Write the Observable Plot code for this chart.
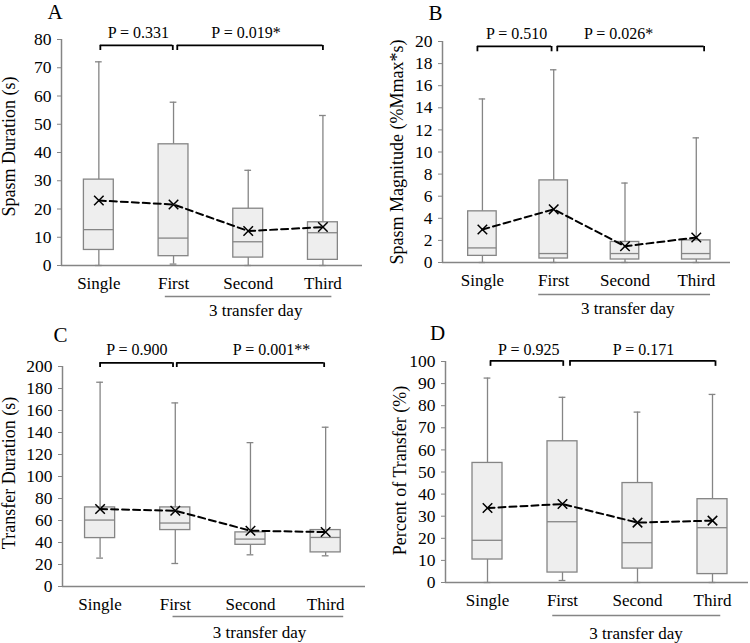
<!DOCTYPE html>
<html><head><meta charset="utf-8">
<script src="https://cdn.jsdelivr.net/npm/d3@7"></script>
<script src="https://cdn.jsdelivr.net/npm/@observablehq/plot@0.6"></script>
<style>
body{margin:0;background:#fff;}
#wrap{position:relative;width:750px;height:643px;overflow:hidden;background:#fff;}
.panel{position:absolute;}
#wrap svg, #wrap svg text, #wrap svg g { font-family: "Liberation Serif", "Times New Roman", serif !important; }
</style></head><body><div id="wrap"></div>
<script>
const categories = ["Single", "First", "Second", "Third"];
const groupLabel = "3 transfer day";

// A: Spasm Duration (s)
const durMax  = [72.1, 57.8, 33.7, 53.1];
const durQ3   = [30.4, 42.9, 20.1, 15.3];
const durMed  = [12.7, 9.7, 8.4, 11.6];
const durQ1   = [5.5, 3.3, 2.8, 2.0];
const durMin  = [0, 0.5, 0, 0];
const durMean = [23.0, 21.6, 12.2, 13.6];
const durTicks = [0, 10, 20, 30, 40, 50, 60, 70, 80];
const durP = ["P = 0.331", "P = 0.019*"];

// B: Spasm Magnitude (%Mmax*s)
const magMax  = [14.8, 17.44, 7.19, 11.28];
const magQ3   = [4.63, 7.43, 1.86, 2.0];
const magMed  = [1.32, 0.81, 0.81, 0.81];
const magQ1   = [0.6, 0.36, 0.27, 0.27];
const magMin  = [0, 0, 0, 0];
const magMean = [2.98, 4.81, 1.47, 2.26];
const magTicks = [0, 2, 4, 6, 8, 10, 12, 14, 16, 18, 20];
const magP = ["P = 0.510", "P = 0.026*"];

// C: Transfer Duration (s)
const trMax  = [185.7, 166.9, 130.8, 144.8];
const trQ3   = [71.9, 71.9, 49.2, 51.3];
const trMed  = [60.4, 57.7, 43.1, 44.6];
const trQ1   = [44.0, 51.3, 37.9, 31.0];
const trMin  = [25.8, 20.9, 28.8, 27.9];
const trMean = [70.4, 68.9, 50.7, 49.5];
const trTicks = [0, 20, 40, 60, 80, 100, 120, 140, 160, 180, 200];
const trP = ["P = 0.900", "P = 0.001**"];

// D: Percent of Transfer (%)
const pctMax  = [92.5, 83.8, 77.1, 85.1];
const pctQ3   = [54.1, 63.9, 45.0, 37.7];
const pctMed  = [19.1, 27.5, 18.0, 24.8];
const pctQ1   = [10.4, 4.5, 6.3, 3.8];
const pctMin  = [0, 0.9, 0, 0];
const pctMean = [33.7, 35.5, 27.1, 28.0];
const pctTicks = [0, 10, 20, 30, 40, 50, 60, 70, 80, 90, 100];
const pctP = ["P = 0.925", "P = 0.171"];

const FONT = '"Liberation Serif", "Times New Roman", serif';
const GREY = "#858585";

const panels = [
  {letter: "A", yLabel: "Spasm Duration (s)", max: durMax, q3: durQ3, med: durMed, q1: durQ1, min: durMin, mean: durMean, ticks: durTicks, p: durP,
   left: 0, top: 0, width: 375, height: 320, margin: [39, 13, 55, 61], xDomain: [-0.5, 3.53],
   bracketY: 77.9, bracketTickY: 76.1, pY: 82.4, brackets: [[0.02, 0.99], [1.05, 3.0]], pX: [0.53, 1.97],
   groupSpan: [0.89, 3.12], groupX: 2.1, groupLineDy: 31, groupTextDy: 45, letterDx: -6.5, letterDy: -27, labelDx: -52, labelDy: -6},
  {letter: "B", yLabel: "Spasm Magnitude (%Mmax*s)", max: magMax, q3: magQ3, med: magMed, q1: magQ1, min: magMin, mean: magMean, ticks: magTicks, p: magP,
   left: 375, top: 0, width: 375, height: 320, margin: [41, 20, 58, 67], xDomain: [-0.56, 3.48],
   bracketY: 19.55, bracketTickY: 19.07, pY: 20.66, brackets: [[-0.07, 0.97], [1.05, 3.11]], pX: [0.48, 1.91],
   groupSpan: [0.79, 3.2], groupX: 2.04, groupLineDy: 32, groupTextDy: 46, letterDx: -7, letterDy: -28.7, labelDx: -45, labelDy: 0},
  {letter: "C", yLabel: "Transfer Duration (s)", max: trMax, q3: trQ3, med: trMed, q1: trQ1, min: trMin, mean: trMean, ticks: trTicks, p: trP,
   left: 0, top: 320, width: 375, height: 323, margin: [46, 10, 57, 62], xDomain: [-0.5, 3.53],
   bracketY: 203.3, bracketTickY: 199.1, pY: 215.2, brackets: [[0, 0.97], [1.02, 2.98]], pX: [0.49, 2.28],
   groupSpan: [0.97, 3.24], groupX: 2.12, groupLineDy: 30, groupTextDy: 46, letterDx: -2, letterDy: -31, labelDx: -53.5, labelDy: -3.5},
  {letter: "D", yLabel: "Percent of Transfer (%)", max: pctMax, q3: pctQ3, med: pctMed, q1: pctQ1, min: pctMin, mean: pctMean, ticks: pctTicks, p: pctP,
   left: 375, top: 320, width: 375, height: 323, margin: [41, 2, 61, 70], xDomain: [-0.56, 3.48],
   bracketY: 100.3, bracketTickY: 97.8, pY: 105.1, brackets: [[0.04, 1.01], [1.10, 3.04]], pX: [0.55, 2.08],
   groupSpan: [0.87, 3.11], groupX: 1.98, groupLineDy: 33, groupTextDy: 51, letterDx: -8, letterDy: -28.3, labelDx: -45.5, labelDy: -1.5}
];

const wrap = document.getElementById("wrap");

for (const cfg of panels) {
  const rows = categories.map((c, i) => ({i, c, max: cfg.max[i], q3: cfg.q3[i], med: cfg.med[i], q1: cfg.q1[i], min: cfg.min[i], mean: cfg.mean[i]}));
  const yMin = cfg.ticks[0], yMax = cfg.ticks[cfg.ticks.length - 1];
  const bw = 0.2, cap = 0.045;
  const bracketRows = cfg.brackets.map((b, k) => ({x1: b[0], x2: b[1], text: cfg.p[k], px: cfg.pX[k]}));
  const bracketEnds = cfg.brackets.flat();

  const chart = Plot.plot({
    width: cfg.width,
    height: cfg.height,
    marginTop: cfg.margin[0], marginRight: cfg.margin[1], marginBottom: cfg.margin[2], marginLeft: cfg.margin[3],
    style: {fontFamily: FONT, fontSize: "17px", color: "black", background: "white", overflow: "visible"},
    x: {type: "linear", domain: cfg.xDomain},
    y: {domain: [yMin, yMax]},
    marks: [
      // whiskers
      Plot.ruleX(rows, {x: "i", y1: "q3", y2: "max", stroke: GREY, strokeWidth: 1.3}),
      Plot.ruleX(rows, {x: "i", y1: "min", y2: "q1", stroke: GREY, strokeWidth: 1.3}),
      Plot.ruleY(rows, {y: "max", x1: d => d.i - cap, x2: d => d.i + cap, stroke: GREY, strokeWidth: 1.3}),
      Plot.ruleY(rows, {y: "min", x1: d => d.i - cap, x2: d => d.i + cap, stroke: GREY, strokeWidth: 1.3}),
      // boxes
      Plot.rect(rows, {x1: d => d.i - bw, x2: d => d.i + bw, y1: "q1", y2: "q3", fill: "#eeeeee", stroke: GREY, strokeWidth: 1.3}),
      Plot.ruleY(rows, {y: "med", x1: d => d.i - bw, x2: d => d.i + bw, stroke: GREY, strokeWidth: 1.3}),
      // axes lines
      Plot.ruleX([cfg.xDomain[0]], {stroke: GREY, strokeWidth: 1.5}),
      Plot.ruleY([yMin], {stroke: GREY, strokeWidth: 1.5}),
      Plot.axisY({ticks: cfg.ticks, tickSize: 4, tickPadding: 6, stroke: GREY, fill: "black", fontSize: 17.5, label: null}),
      Plot.axisX({ticks: [0, 1, 2, 3], tickFormat: i => categories[i], tickSize: 0, tickPadding: 11, fill: "black", fontSize: 17, label: null}),
      // means
      Plot.line(rows, {x: "i", y: "mean", stroke: "black", strokeWidth: 2, strokeDasharray: "7,4"}),
      Plot.dot(rows, {x: "i", y: "mean", symbol: "times", r: 4.4, stroke: "black", strokeWidth: 1.5}),
      // significance brackets
      Plot.ruleY(bracketRows, {y: () => cfg.bracketY, x1: "x1", x2: "x2", stroke: "black", strokeWidth: 1.8}),
      Plot.ruleX(bracketEnds, {x: d => d, y1: () => cfg.bracketY, y2: () => cfg.bracketTickY, stroke: "black", strokeWidth: 1.8}),
      Plot.text(bracketRows, {x: "px", y: () => cfg.pY, text: "text", fontSize: 16, fill: "black"}),
      // group bracket below axis
      Plot.ruleY([yMin], {x1: () => cfg.groupSpan[0], x2: () => cfg.groupSpan[1], dy: cfg.groupLineDy, stroke: GREY, strokeWidth: 1.5}),
      Plot.text([groupLabel], {x: () => cfg.groupX, frameAnchor: "bottom", dy: cfg.groupTextDy, lineAnchor: "middle", text: d => d, fontSize: 17, fill: "black"}),
      // y label
      Plot.text([cfg.yLabel], {frameAnchor: "left", rotate: -90, dx: cfg.labelDx, dy: cfg.labelDy, textAnchor: "middle", lineAnchor: "middle", text: d => d, fontSize: 18, fill: "black"}),
      // panel letter
      Plot.text([cfg.letter], {frameAnchor: "top-left", dx: cfg.letterDx, dy: cfg.letterDy, text: d => d, fontSize: 21, fill: "black", textAnchor: "middle", lineAnchor: "middle"})
    ]
  });
  const div = document.createElement("div");
  div.className = "panel";
  div.style.left = cfg.left + "px";
  div.style.top = cfg.top + "px";
  div.appendChild(chart);
  wrap.appendChild(div);
}
</script>
</body></html>
